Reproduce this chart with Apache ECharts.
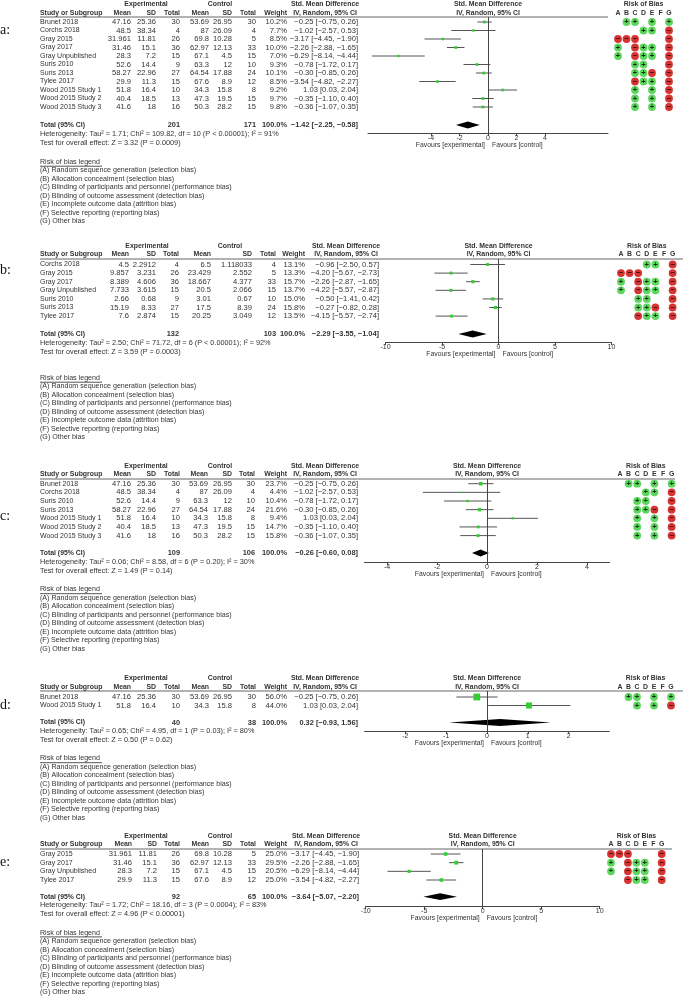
<!DOCTYPE html>
<html><head><meta charset="utf-8">
<script src="https://cdn.jsdelivr.net/npm/echarts@6/dist/echarts.min.js"></script>
<style>html,body{margin:0;padding:0;background:#fff}#c{width:685px;height:996px}</style>
</head><body><div id="c"></div>
<script>
// ================= DATA =================
const robLetters = ['A','B','C','D','E','F','G'];
const legendTitle = 'Risk of bias legend';
const legendLines = [
  '(A) Random sequence generation (selection bias)',
  '(B) Allocation concealment (selection bias)',
  '(C) Blinding of participants and personnel (performance bias)',
  '(D) Blinding of outcome assessment (detection bias)',
  '(E) Incomplete outcome data (attrition bias)',
  '(F) Selective reporting (reporting bias)',
  '(G) Other bias'
];

// ---- panel a ----
const studiesA = ['Brunet 2018','Corchs 2018','Gray 2015','Gray 2017','Gray Unpublished','Suris 2010','Suris 2013','Tylee 2017','Wood 2015 Study 1','Wood 2015 Study 2','Wood 2015 Study 3'];
const expMeanA = [47.16,48.5,31.961,31.46,28.3,52.6,58.27,29.9,51.8,40.4,41.6];
const expSDA   = [25.36,38.34,11.81,15.1,7.2,14.4,22.96,11.3,16.4,18.5,18];
const expNA    = [30,4,26,36,15,9,27,15,10,13,16];
const ctlMeanA = [53.69,87,69.8,62.97,67.1,63.3,64.54,67.6,34.3,47.3,50.3];
const ctlSDA   = [26.95,26.09,10.28,12.13,4.5,12,17.88,8.9,15.8,19.5,28.2];
const ctlNA    = [30,4,5,33,15,10,24,12,8,15,15];
const weightA  = [10.2,7.7,8.5,10.0,7.0,9.3,10.1,8.5,9.2,9.7,9.8];
const smdA     = [-0.25,-1.02,-3.17,-2.26,-6.29,-0.78,-0.30,-3.54,1.03,-0.35,-0.36];
const loA      = [-0.75,-2.57,-4.45,-2.88,-8.14,-1.72,-0.85,-4.82,0.03,-1.10,-1.07];
const hiA      = [0.26,0.53,-1.90,-1.65,-4.44,0.17,0.26,-2.27,2.04,0.40,0.35];
const robA     = ['.++.+.+','...++.-','---...-','+.-++.-','+.-++.-','..++..-','..++-.-','..-++.-','..+.+.-','..+.+.-','..+.+.-'];
const totalA   = [201,171,-1.42,-2.25,-0.58];
const hetA  = 'Heterogeneity: Tau² = 1.71; Chi² = 109.82, df = 10 (P < 0.00001); I² = 91%';
const testA = 'Test for overall effect: Z = 3.32 (P = 0.0009)';
const ticksA = [-4,-2,0,2,4];

// ---- panel b ----
const studiesB = ['Corchs 2018','Gray 2015','Gray 2017','Gray Unpublished','Suris 2010','Suris 2013','Tylee 2017'];
const expMeanB = [4.5,9.857,8.389,7.733,2.66,15.19,7.6];
const expSDB   = [2.2912,3.231,4.606,3.615,0.68,8.33,2.874];
const expNB    = [4,26,36,15,9,27,15];
const ctlMeanB = [6.5,23.429,18.667,20.5,3.01,17.5,20.25];
const ctlSDB   = [1.118033,2.552,4.377,2.066,0.67,8.39,3.049];
const ctlNB    = [4,5,33,15,10,24,12];
const weightB  = [13.1,13.3,15.7,13.7,15.0,15.8,13.5];
const smdB     = [-0.96,-4.20,-2.26,-4.22,-0.50,-0.27,-4.15];
const loB      = [-2.50,-5.67,-2.87,-5.57,-1.41,-0.82,-5.57];
const hiB      = [0.57,-2.73,-1.65,-2.87,0.42,0.28,-2.74];
const robB     = ['...++.-','---...-','+.-++.-','+.-++.-','..++..-','..++-.-','..-++.-'];
const totalB   = [132,103,-2.29,-3.55,-1.04];
const hetB  = 'Heterogeneity: Tau² = 2.50; Chi² = 71.72, df = 6 (P < 0.00001); I² = 92%';
const testB = 'Test for overall effect: Z = 3.59 (P = 0.0003)';
const ticksB = [-10,-5,0,5,10];

// ---- panel c ----
const studiesC = ['Brunet 2018','Corchs 2018','Suris 2010','Suris 2013','Wood 2015 Study 1','Wood 2015 Study 2','Wood 2015 Study 3'];
const expMeanC = [47.16,48.5,52.6,58.27,51.8,40.4,41.6];
const expSDC   = [25.36,38.34,14.4,22.96,16.4,18.5,18];
const expNC    = [30,4,9,27,10,13,16];
const ctlMeanC = [53.69,87,63.3,64.54,34.3,47.3,50.3];
const ctlSDC   = [26.95,26.09,12,17.88,15.8,19.5,28.2];
const ctlNC    = [30,4,10,24,8,15,15];
const weightC  = [23.7,4.4,10.4,21.6,9.4,14.7,15.8];
const smdC     = [-0.25,-1.02,-0.78,-0.30,1.03,-0.35,-0.36];
const loC      = [-0.75,-2.57,-1.72,-0.85,0.03,-1.10,-1.07];
const hiC      = [0.26,0.53,0.17,0.26,2.04,0.40,0.35];
const robC     = ['.++.+.+','...++.-','..++..-','..++-.-','..+.+.-','..+.+.-','..+.+.-'];
const totalC   = [109,106,-0.26,-0.60,0.08];
const hetC  = 'Heterogeneity: Tau² = 0.06; Chi² = 8.58, df = 6 (P = 0.20); I² = 30%';
const testC = 'Test for overall effect: Z = 1.49 (P = 0.14)';
const ticksC = [-4,-2,0,2,4];

// ---- panel d ----
const studiesD = ['Brunet 2018','Wood 2015 Study 1'];
const expMeanD = [47.16,51.8];
const expSDD   = [25.36,16.4];
const expND    = [30,10];
const ctlMeanD = [53.69,34.3];
const ctlSDD   = [26.95,15.8];
const ctlND    = [30,8];
const weightD  = [56.0,44.0];
const smdD     = [-0.25,1.03];
const loD      = [-0.75,0.03];
const hiD      = [0.26,2.04];
const robD     = ['.++.+.+','..+.+.-'];
const totalD   = [40,38,0.32,-0.93,1.56];
const hetD  = 'Heterogeneity: Tau² = 0.65; Chi² = 4.95, df = 1 (P = 0.03); I² = 80%';
const testD = 'Test for overall effect: Z = 0.50 (P = 0.62)';
const ticksD = [-2,-1,0,1,2];

// ---- panel e ----
const studiesE = ['Gray 2015','Gray 2017','Gray Unpublished','Tylee 2017'];
const expMeanE = [31.961,31.46,28.3,29.9];
const expSDE   = [11.81,15.1,7.2,11.3];
const expNE    = [26,36,15,15];
const ctlMeanE = [69.8,62.97,67.1,67.6];
const ctlSDE   = [10.28,12.13,4.5,8.9];
const ctlNE    = [5,33,15,12];
const weightE  = [25.0,29.5,20.5,25.0];
const smdE     = [-3.17,-2.26,-6.29,-3.54];
const loE      = [-4.45,-2.88,-8.14,-4.82];
const hiE      = [-1.90,-1.65,-4.44,-2.27];
const robE     = ['---...-','+.-++.-','+.-++.-','..-++.-'];
const totalE   = [92,65,-3.64,-5.07,-2.20];
const hetE  = 'Heterogeneity: Tau² = 1.72; Chi² = 18.16, df = 3 (P = 0.0004); I² = 83%';
const testE = 'Test for overall effect: Z = 4.96 (P < 0.00001)';
const ticksE = [-10,-5,0,5,10];

// ================= LAYOUT / STYLE =================
const panels = [
  {label:'a:', studies:studiesA, em:expMeanA, es:expSDA, en:expNA, cm:ctlMeanA, cs:ctlSDA, cn:ctlNA, w:weightA, smd:smdA, lo:loA, hi:hiA, rob:robA, tot:totalA, het:hetA, test:testA, ticks:ticksA},
  {label:'b:', studies:studiesB, em:expMeanB, es:expSDB, en:expNB, cm:ctlMeanB, cs:ctlSDB, cn:ctlNB, w:weightB, smd:smdB, lo:loB, hi:hiB, rob:robB, tot:totalB, het:hetB, test:testB, ticks:ticksB},
  {label:'c:', studies:studiesC, em:expMeanC, es:expSDC, en:expNC, cm:ctlMeanC, cs:ctlSDC, cn:ctlNC, w:weightC, smd:smdC, lo:loC, hi:hiC, rob:robC, tot:totalC, het:hetC, test:testC, ticks:ticksC},
  {label:'d:', studies:studiesD, em:expMeanD, es:expSDD, en:expND, cm:ctlMeanD, cs:ctlSDD, cn:ctlND, w:weightD, smd:smdD, lo:loD, hi:hiD, rob:robD, tot:totalD, het:hetD, test:testD, ticks:ticksD},
  {label:'e:', studies:studiesE, em:expMeanE, es:expSDE, en:expNE, cm:ctlMeanE, cs:ctlSDE, cn:ctlNE, w:weightE, smd:smdE, lo:loE, hi:hiE, rob:robE, tot:totalE, het:hetE, test:testE, ticks:ticksE}
];
const layouts = [
  {labelY:30,  h1:4,   h2:13,  line:17,  row0:22,  step:8.5,  totY:125,  hetY:134,  testY:142.5, axisY:133, legY:162,
   cols:[131,156,180,209,232,256,287,358], expC:146, ctlC:220, lineEnd:608,
   zeroX:488, ppu:14.25, axMin:-8.42, axMax:8.42, robA:618, robStep:8.5, sq:2.8},
  {labelY:270, h1:246, h2:254.5, line:259, row0:264.5, step:8.6, totY:334, hetY:343, testY:351.5, axisY:342, legY:378,
   cols:[129,156,179,211,252,276,305,379], expC:147, ctlC:230, lineEnd:683,
   zeroX:498.5, ppu:11.3, axMin:-10, axMax:10, robA:621, robStep:8.6, sq:3.2},
  {labelY:516, h1:466, h2:474.3, line:479, row0:483.7, step:8.65, totY:553, hetY:562, testY:570.5, axisY:562, legY:589.5,
   cols:[131,156,180,208,232,255,287,358], expC:146, ctlC:220, lineEnd:675,
   zeroX:487, ppu:25, axMin:-4.9, axMax:4.9, robA:620, robStep:8.6, sq:3.6},
  {labelY:705, h1:678, h2:687, line:691, row0:697, step:8.5, totY:722.5, hetY:731, testY:739.5, axisY:731, legY:758.5,
   cols:[131,156,180,209,232,256,287,358], expC:146, ctlC:220, lineEnd:683,
   zeroX:487, ppu:40.8, axMin:-3, axMax:3, robA:620, robStep:8.5, sq:6.8},
  {labelY:862.7, h1:835.7, h2:844.3, line:849, row0:854, step:8.67, totY:896.7, hetY:905.3, testY:913.7, axisY:906, legY:932.7,
   cols:[132,157,180,209,232,256,287,359], expC:146, ctlC:220, lineEnd:672,
   zeroX:482.7, ppu:11.7, axMin:-10, axMax:10, robA:611, robStep:8.45, sq:3.8}
];
const FAM = '"Liberation Sans", Arial, sans-serif';
const SZ = {name:7.0, num:7.6, hdr:6.9, het:7.3, leg:7.1, fav:6.8, tick:7.0, totNum:7.4};
const TXT = '#333', GREEN = '#33cc33', RED = '#cc0000';

function T(x, y, text, o) {
  o = o || {};
  return {type:'text', x:x, y:y, silent:true, z:10,
    style:{text:String(text), font:(o.bold?'bold ':'') + (o.size||SZ.name) + 'px ' + (o.fam||FAM),
      fill:o.color||TXT, align:o.align||'left', verticalAlign:'middle'}};
}
function HL(x1, x2, y, color) {
  return {type:'line', silent:true, shape:{x1:x1, y1:y, x2:x2, y2:y}, style:{stroke:color||'#666', lineWidth:1}};
}
const f2 = v => (v < 0 ? '−' : '') + Math.abs(v).toFixed(2);
const ci = (e, l, h) => f2(e) + ' [' + f2(l) + ', ' + f2(h) + ']';

const grids = [], xAxes = [], yAxes = [], series = [], gfx = [];

panels.forEach((P, pi) => {
  const L = layouts[pi];
  const yMin = (L.line - L.row0) / L.step, yMax = (L.axisY - L.row0) / L.step;
  const yOf = i => L.row0 + i * L.step;
  const totRow = (L.totY - L.row0) / L.step;
  const gi = grids.length;
  const wMax = Math.max.apply(null, P.w);

  // forest grid
  grids.push({left:L.zeroX + L.axMin * L.ppu, width:(L.axMax - L.axMin) * L.ppu, top:L.line, height:L.axisY - L.line});
  xAxes.push({type:'value', gridIndex:gi, min:L.axMin, max:L.axMax,
    axisLine:{show:true, onZero:false, lineStyle:{color:'#444', width:1}},
    axisTick:{show:true, customValues:P.ticks, length:3, lineStyle:{color:'#444'}},
    axisLabel:{customValues:P.ticks, fontSize:SZ.tick, color:TXT, margin:1.5, fontFamily:'Liberation Sans'},
    splitLine:{show:false}});
  yAxes.push({type:'value', gridIndex:gi, min:yMin, max:yMax, inverse:true, show:false});
  // rob grid
  grids.push({left:L.robA - L.robStep / 2, width:7 * L.robStep, top:L.line, height:L.axisY - L.line});
  xAxes.push({type:'category', gridIndex:gi + 1, data:robLetters, show:false});
  yAxes.push({type:'value', gridIndex:gi + 1, min:yMin, max:yMax, inverse:true, show:false});

  const sq = L.sq;
  series.push({type:'custom', xAxisIndex:gi, yAxisIndex:gi, silent:true, animation:false, clip:false,
    data:P.smd.map((v, i) => [i, P.lo[i], P.hi[i], v]),
    encode:{x:[1,2,3], y:0},
    renderItem:(params, api) => {
      const y = api.value(0);
      const a = api.coord([api.value(1), y]), b = api.coord([api.value(2), y]), c = api.coord([api.value(3), y]);
      const s = Math.max(1.6, sq * Math.sqrt(P.w[params.dataIndex] / wMax));
      return {type:'group', children:[
        {type:'line', shape:{x1:a[0], y1:a[1], x2:b[0], y2:b[1]}, style:{stroke:'#555', lineWidth:1}},
        {type:'rect', shape:{x:c[0] - s / 2, y:c[1] - s / 2, width:s, height:s}, style:{fill:GREEN}}
      ]};
    },
    markLine:{silent:true, symbol:'none', animation:false, label:{show:false},
      lineStyle:{color:'#444', width:1, type:'solid'}, data:[{xAxis:0}]}
  });
  series.push({type:'custom', xAxisIndex:gi, yAxisIndex:gi, silent:true, animation:false, clip:false,
    data:[[totRow, P.tot[3], P.tot[4], P.tot[2]]],
    encode:{x:[1,2,3], y:0},
    renderItem:(params, api) => {
      const y = api.value(0);
      const a = api.coord([api.value(1), y]), b = api.coord([api.value(2), y]), c = api.coord([api.value(3), y]);
      const h = 3.4;
      return {type:'polygon', shape:{points:[[a[0], a[1]], [c[0], c[1] - h], [b[0], b[1]], [c[0], c[1] + h]]}, style:{fill:'#000'}};
    }
  });
  const robData = [];
  P.rob.forEach((s, i) => {
    for (let k = 0; k < 7; k++) {
      const ch = s[k];
      if (ch === '+' || ch === '-') robData.push({value:[k, i], itemStyle:{color:ch === '+' ? GREEN : RED}, label:{formatter:ch === '+' ? '+' : '−'}});
    }
  });
  series.push({type:'scatter', xAxisIndex:gi + 1, yAxisIndex:gi + 1, silent:true, animation:false,
    symbol:'circle', symbolSize:7.8, data:robData,
    label:{show:true, position:'inside', color:'#000', fontSize:7.5, fontWeight:'bold', fontFamily:'Liberation Sans'}});

  // ---- texts ----
  const C = L.cols;
  const smdHC = C[7] - 33;
  const H = {bold:1, size:SZ.hdr};
  gfx.push(T(0, L.labelY, P.label, {size:14, fam:'"Liberation Serif", serif', color:'#111'}));
  gfx.push(T(L.expC, L.h1, 'Experimental', Object.assign({align:'center'}, H)));
  gfx.push(T(L.ctlC, L.h1, 'Control', Object.assign({align:'center'}, H)));
  gfx.push(T(smdHC, L.h1, 'Std. Mean Difference', Object.assign({align:'center'}, H)));
  gfx.push(T(L.zeroX, L.h1, 'Std. Mean Difference', Object.assign({align:'center'}, H)));
  gfx.push(T(L.robA + 3 * L.robStep, L.h1, 'Risk of Bias', Object.assign({align:'center'}, H)));
  gfx.push(T(40, L.h2, 'Study or Subgroup', H));
  ['Mean','SD','Total','Mean','SD','Total','Weight'].forEach((h, k) => gfx.push(T(C[k], L.h2, h, Object.assign({align:'right'}, H))));
  gfx.push(T(smdHC, L.h2, 'IV, Random, 95% CI', Object.assign({align:'center'}, H)));
  gfx.push(T(L.zeroX, L.h2, 'IV, Random, 95% CI', Object.assign({align:'center'}, H)));
  robLetters.forEach((l, k) => gfx.push(T(L.robA + k * L.robStep, L.h2, l, Object.assign({align:'center'}, H))));
  gfx.push(HL(40, L.lineEnd, L.line));
  P.studies.forEach((s, i) => {
    const y = yOf(i);
    gfx.push(T(40, y, s, {size:SZ.name}));
    [P.em[i], P.es[i], P.en[i], P.cm[i], P.cs[i], P.cn[i], P.w[i].toFixed(1) + '%'].forEach((v, k) => gfx.push(T(C[k], y, v, {align:'right', size:SZ.num})));
    gfx.push(T(C[7], y, ci(P.smd[i], P.lo[i], P.hi[i]), {align:'right', size:SZ.num}));
  });
  gfx.push(T(40, L.totY, 'Total (95% CI)', H));
  gfx.push(T(C[2], L.totY, P.tot[0], {bold:1, align:'right', size:SZ.totNum}));
  gfx.push(T(C[5], L.totY, P.tot[1], {bold:1, align:'right', size:SZ.totNum}));
  gfx.push(T(C[6], L.totY, '100.0%', {bold:1, align:'right', size:SZ.totNum}));
  gfx.push(T(C[7], L.totY, ci(P.tot[2], P.tot[3], P.tot[4]), {bold:1, align:'right', size:SZ.totNum}));
  gfx.push(T(40, L.hetY, P.het, {size:SZ.het}));
  gfx.push(T(40, L.testY, P.test, {size:SZ.het}));
  gfx.push(T(L.zeroX - 3, L.axisY + 12.5, 'Favours [experimental]', {align:'right', size:SZ.fav}));
  gfx.push(T(L.zeroX + 4, L.axisY + 12.5, 'Favours [control]', {size:SZ.fav}));
  gfx.push(T(40, L.legY, legendTitle, {size:SZ.leg}));
  gfx.push(HL(40, 102, L.legY + 4.2, '#555'));
  legendLines.forEach((t, k) => gfx.push(T(40, L.legY + 8.5 * (k + 1), t, {size:SZ.leg})));
});

const chart = echarts.init(document.getElementById('c'), null, {renderer:'canvas'});
chart.setOption({
  animation:false, backgroundColor:'#fff',
  grid:grids, xAxis:xAxes, yAxis:yAxes, series:series,
  graphic:{elements:gfx}
});
</script></body></html>
